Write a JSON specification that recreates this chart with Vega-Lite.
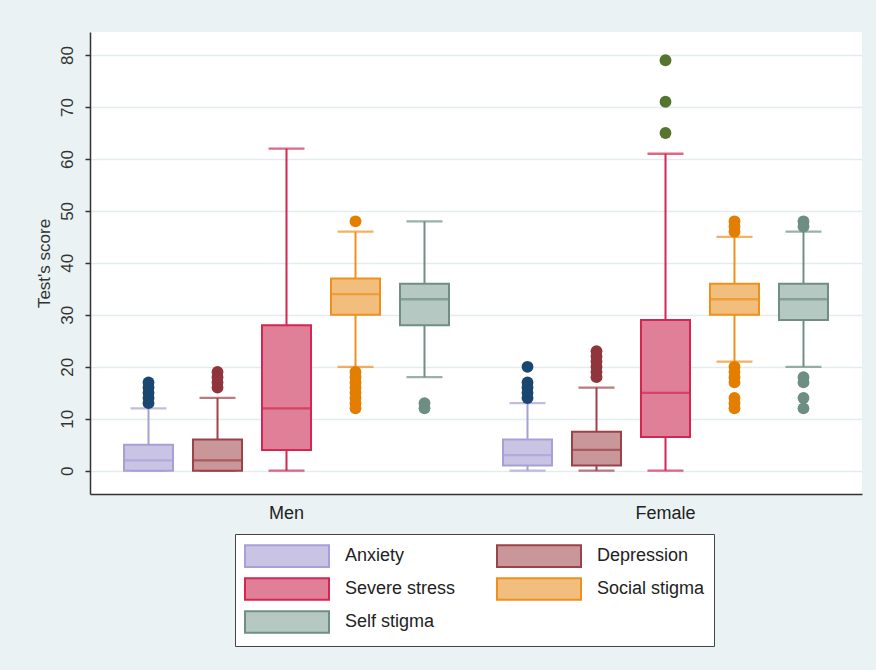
{
  "$schema": "https://vega.github.io/schema/vega-lite/v6.json",
  "width": 772,
  "height": 462,
  "autosize": {"type": "none"},
  "padding": {"left": 90, "top": 32, "right": 14, "bottom": 176},
  "background": "#eaf2f3",
  "datasets": {
    "boxes": [
      {"group": "Men", "measure": "Anxiety", "lower": 0, "q1": 0, "median": 2, "q3": 5, "upper": 12},
      {"group": "Men", "measure": "Depression", "lower": 0, "q1": 0, "median": 2, "q3": 6, "upper": 14},
      {"group": "Men", "measure": "Severe stress", "lower": 0, "q1": 4, "median": 12, "q3": 28, "upper": 62},
      {"group": "Men", "measure": "Social stigma", "lower": 20, "q1": 30, "median": 34, "q3": 37, "upper": 46},
      {"group": "Men", "measure": "Self stigma", "lower": 18, "q1": 28, "median": 33, "q3": 36, "upper": 48},
      {"group": "Female", "measure": "Anxiety", "lower": 0, "q1": 1, "median": 3, "q3": 6, "upper": 13},
      {"group": "Female", "measure": "Depression", "lower": 0, "q1": 1, "median": 4, "q3": 7.5, "upper": 16},
      {"group": "Female", "measure": "Severe stress", "lower": 0, "q1": 6.5, "median": 15, "q3": 29, "upper": 61},
      {"group": "Female", "measure": "Social stigma", "lower": 21, "q1": 30, "median": 33, "q3": 36, "upper": 45},
      {"group": "Female", "measure": "Self stigma", "lower": 20, "q1": 29, "median": 33, "q3": 36, "upper": 46}
    ],
    "outliers": [
      {"group": "Men", "measure": "Anxiety", "value": 13},
      {"group": "Men", "measure": "Anxiety", "value": 14},
      {"group": "Men", "measure": "Anxiety", "value": 15},
      {"group": "Men", "measure": "Anxiety", "value": 16},
      {"group": "Men", "measure": "Anxiety", "value": 17},
      {"group": "Men", "measure": "Depression", "value": 16},
      {"group": "Men", "measure": "Depression", "value": 17},
      {"group": "Men", "measure": "Depression", "value": 18},
      {"group": "Men", "measure": "Depression", "value": 19},
      {"group": "Men", "measure": "Social stigma", "value": 48},
      {"group": "Men", "measure": "Social stigma", "value": 19},
      {"group": "Men", "measure": "Social stigma", "value": 18},
      {"group": "Men", "measure": "Social stigma", "value": 17},
      {"group": "Men", "measure": "Social stigma", "value": 16},
      {"group": "Men", "measure": "Social stigma", "value": 15},
      {"group": "Men", "measure": "Social stigma", "value": 14},
      {"group": "Men", "measure": "Social stigma", "value": 13},
      {"group": "Men", "measure": "Social stigma", "value": 12},
      {"group": "Men", "measure": "Self stigma", "value": 13},
      {"group": "Men", "measure": "Self stigma", "value": 12},
      {"group": "Female", "measure": "Anxiety", "value": 20},
      {"group": "Female", "measure": "Anxiety", "value": 17},
      {"group": "Female", "measure": "Anxiety", "value": 16},
      {"group": "Female", "measure": "Anxiety", "value": 15},
      {"group": "Female", "measure": "Anxiety", "value": 14},
      {"group": "Female", "measure": "Depression", "value": 23},
      {"group": "Female", "measure": "Depression", "value": 22},
      {"group": "Female", "measure": "Depression", "value": 21},
      {"group": "Female", "measure": "Depression", "value": 20},
      {"group": "Female", "measure": "Depression", "value": 19},
      {"group": "Female", "measure": "Depression", "value": 18},
      {"group": "Female", "measure": "Severe stress", "value": 79},
      {"group": "Female", "measure": "Severe stress", "value": 71},
      {"group": "Female", "measure": "Severe stress", "value": 65},
      {"group": "Female", "measure": "Social stigma", "value": 48},
      {"group": "Female", "measure": "Social stigma", "value": 47},
      {"group": "Female", "measure": "Social stigma", "value": 46},
      {"group": "Female", "measure": "Social stigma", "value": 20},
      {"group": "Female", "measure": "Social stigma", "value": 19},
      {"group": "Female", "measure": "Social stigma", "value": 18},
      {"group": "Female", "measure": "Social stigma", "value": 17},
      {"group": "Female", "measure": "Social stigma", "value": 14},
      {"group": "Female", "measure": "Social stigma", "value": 13},
      {"group": "Female", "measure": "Social stigma", "value": 12},
      {"group": "Female", "measure": "Self stigma", "value": 48},
      {"group": "Female", "measure": "Self stigma", "value": 47},
      {"group": "Female", "measure": "Self stigma", "value": 18},
      {"group": "Female", "measure": "Self stigma", "value": 17},
      {"group": "Female", "measure": "Self stigma", "value": 14},
      {"group": "Female", "measure": "Self stigma", "value": 12}
    ]
  },
  "layer": [
    {
      "data": {"name": "boxes"},
      "encoding": {
        "x": {"field": "group", "type": "nominal", "sort": ["Men", "Female"], "scale": {"paddingInner": 0, "paddingOuter": 0.0185},
              "axis": {"title": null, "labelAngle": 0, "ticks": false, "grid": false, "labelFontSize": 18, "labelPadding": 10, "labelColor": "#222", "domainColor": "#333", "domainWidth": 1.5}},
        "xOffset": {"field": "measure", "type": "nominal", "scale": {"domain": ["Anxiety", "Depression", "Severe stress", "Social stigma", "Self stigma"], "paddingInner": 0.29, "paddingOuter": 0.3915}},
        "stroke": {"field": "measure", "type": "nominal",
                   "scale": {"domain": ["Anxiety", "Depression", "Severe stress", "Social stigma", "Self stigma"], "range": ["#a79fd6", "#9c4249", "#d42650", "#f0901c", "#6f8f85"]},
                   "legend": {"title": null, "orient": "none", "legendX": 145, "legendY": 502, "direction": "horizontal", "columns": 2, "gridAlign": "all",
                              "symbolType": "M-3.5,-0.9H3.5V0.9H-3.5Z", "symbolSize": 576, "symbolStrokeWidth": 2, "symbolOffset": 30, "labelOffset": 45, "symbolOpacity": 1,
                              "labelFontSize": 18, "labelColor": "#222", "rowPadding": 3, "columnPadding": 37, "padding": 9, "strokeColor": "#444", "fillColor": "white"}}
      },
      "layer": [
        {"mark": {"type": "rule", "strokeWidth": 2}, "encoding": {"y": {"field": "lower", "type": "quantitative"}, "y2": {"field": "q1"}}},
        {"mark": {"type": "rule", "strokeWidth": 2}, "encoding": {"y": {"field": "q3", "type": "quantitative"}, "y2": {"field": "upper"}}},
        {"mark": {"type": "tick", "filled": false, "size": 34, "thickness": 0.3, "strokeWidth": 2}, "encoding": {"y": {"field": "lower", "type": "quantitative"}}},
        {"mark": {"type": "tick", "filled": false, "size": 34, "thickness": 0.3, "strokeWidth": 2}, "encoding": {"y": {"field": "upper", "type": "quantitative"}}},
        {"mark": {"type": "bar", "strokeWidth": 2, "opacity": 1},
         "encoding": {
           "y": {"field": "q1", "type": "quantitative",
                 "scale": {"domain": [-4.48, 84.43], "nice": false, "zero": false},
                 "axis": {"title": "Test's score", "values": [0, 10, 20, 30, 40, 50, 60, 70, 80], "labelAngle": 270, "labelFontSize": 17, "labelColor": "#333", "labelPadding": 9,
                          "tickSize": 5, "tickColor": "#333", "tickWidth": 1.5, "domainColor": "#333", "domainWidth": 1.5,
                          "grid": true, "gridColor": "#e3ecee", "gridWidth": 1.5, "titleFontSize": 17, "titleFontWeight": "normal", "titleColor": "#333", "titlePadding": 5}},
           "y2": {"field": "q3"},
           "fill": {"field": "measure", "type": "nominal",
                    "scale": {"domain": ["Anxiety", "Depression", "Severe stress", "Social stigma", "Self stigma"], "range": ["#c9c4e3", "#c9979a", "#e07f98", "#f1be7d", "#b5c9c2"]},
                    "legend": {"title": null, "orient": "none", "legendX": 145, "legendY": 502, "direction": "horizontal", "columns": 2, "gridAlign": "all",
                               "symbolType": "M-3.5,-0.9H3.5V0.9H-3.5Z", "symbolSize": 576, "symbolStrokeWidth": 2, "symbolOffset": 30, "labelOffset": 45, "symbolOpacity": 1,
                               "labelFontSize": 18, "labelColor": "#222", "rowPadding": 3, "columnPadding": 37, "padding": 9, "strokeColor": "#444", "fillColor": "white"}}
         }},
        {"mark": {"type": "tick", "filled": false, "size": 49, "thickness": 0.3, "strokeWidth": 2}, "encoding": {"y": {"field": "median", "type": "quantitative"}}}
      ]
    },
    {
      "data": {"name": "outliers"},
      "mark": {"type": "point", "filled": true, "size": 140, "opacity": 1},
      "encoding": {
        "x": {"field": "group", "type": "nominal", "sort": ["Men", "Female"]},
        "xOffset": {"field": "measure", "type": "nominal"},
        "y": {"field": "value", "type": "quantitative"},
        "color": {"field": "measure", "type": "nominal",
                  "scale": {"domain": ["Anxiety", "Depression", "Severe stress", "Social stigma", "Self stigma"], "range": ["#1a476f", "#90353b", "#55752f", "#e37e00", "#6e8e84"]},
                  "legend": null}
      }
    }
  ],
  "config": {
    "font": "Liberation Sans",
    "view": {"stroke": null, "fill": "white"}
  }
}
